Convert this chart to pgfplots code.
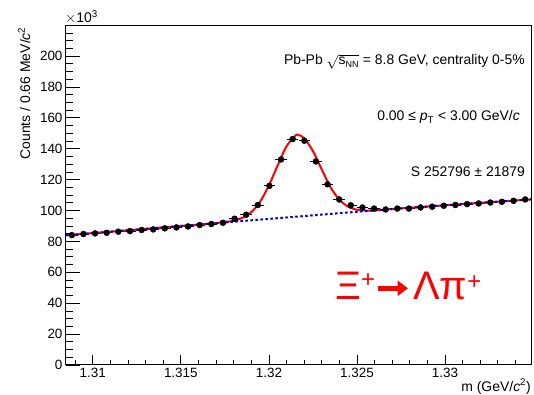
\documentclass[border=0pt]{standalone}
\usepackage{pgfplots}
\pgfplotsset{compat=1.18}
\usepackage{pgfplotstable}
\usepackage{fontspec}
\setmainfont{Liberation Sans}
\usetikzlibrary{arrows.meta}

\pgfplotstableread{
x y
1.30881 84.1
1.30947 84.8
1.31013 85.2
1.31079 85.6
1.31145 86.3
1.31211 86.7
1.31277 87.4
1.31343 87.8
1.31409 88.5
1.31475 89.1
1.31541 89.7
1.31607 90.6
1.31673 91.3
1.31739 92.1
1.31805 94.7
1.31871 97.3
1.31937 103.6
1.32003 116.0
1.32069 133.1
1.32135 146.3
1.32201 145.2
1.32267 131.8
1.32333 117.0
1.32399 107.2
1.32465 103.4
1.32531 102.0
1.32597 101.3
1.32663 100.7
1.32729 101.3
1.32795 101.3
1.32861 102.0
1.32927 102.5
1.32993 103.1
1.33059 103.6
1.33125 104.2
1.33191 104.6
1.33257 105.2
1.33323 105.7
1.33389 106.3
1.33455 107.2
}\datatable

\pgfplotstableread{
x y
1.30848 84.0
1.3100 85.4
1.3120 87.2
1.3140 89.1
1.3160 90.9
1.3170 91.9
1.3180 93.4
1.3185 95.3
1.3190 99.0
1.3195 105.7
1.3200 116.3
1.3205 129.3
1.3210 141.6
1.3215 148.5
1.32166 149.0
1.3220 146.9
1.3225 138.5
1.3230 126.6
1.3235 115.1
1.3240 107.0
1.3245 102.5
1.3250 100.5
1.3255 100.0
1.3260 100.1
1.3270 101.0
1.3300 103.4
1.3325 105.4
1.33488 107.2
}\fittable

\pgfplotstableread{
x y
1.30848 84.0
1.3150 90.0
1.3200 94.6
1.3250 99.2
1.3270 101.0
1.3300 103.4
1.33488 107.2
}\bkgtable

\begin{document}
\begin{tikzpicture}
\pgfplotsset{
  common/.style={
    at={(0,0)}, anchor=south west, scale only axis,
    width=465bp, height=339bp,
    xmin=1.30848, xmax=1.33488, ymin=0, ymax=219.5,
    /pgf/number format/assume math mode=true,
    tick style={black, line width=0.8bp},
    tick label style={font=\fontsize{13.5}{14}\selectfont},
  }
}
\begin{axis}[common,
  xtick=\empty,
  ytick={0,20,...,200},
  minor ytick={5,10,...,215},
  ytick pos=left,
  major tick length=14bp, minor tick length=7bp,
  axis line style={line width=1bp},
]
\addplot[only marks, mark=*, mark size=3bp, black,
  error bars/.cd, x dir=both, x fixed=0.00033,
  error bar style={black, line width=0.8bp}, error mark=none]
  table[x=x,y=y] {\datatable};
\addplot[red, line width=2bp, smooth, tension=0.5] table[x=x,y=y] {\fittable};
\addplot[blue!85!black, line width=2bp, dash pattern=on 2.5bp off 2.5bp, smooth] table[x=x,y=y] {\bkgtable};
\end{axis}
\begin{axis}[common,
  ytick=\empty,
  xtick={1.31,1.315,1.32,1.325,1.33},
  xticklabels={1.31,1.315,1.32,1.325,1.33},
  minor xtick={1.309,1.311,1.312,1.313,1.314,1.316,1.317,1.318,1.319,1.321,1.322,1.323,1.324,1.326,1.327,1.328,1.329,1.331,1.332,1.333,1.334},
  xtick pos=bottom,
  major tick length=10bp, minor tick length=5bp,
  axis line style={draw=none},
]
\end{axis}
% texts (coordinates relative to the lower-left corner of the frame)
\node[anchor=base west, inner sep=0, font=\fontsize{14}{14}\selectfont] at (-1bp,342bp) {$\times$10\textsuperscript{3}};
\node[anchor=base east, rotate=90, inner sep=0, font=\fontsize{14}{14}\selectfont] at (-36bp,338bp) {Counts / 0.66 MeV/\textit{c}\textsuperscript{2}};
\node[anchor=base east, inner sep=0, font=\fontsize{14}{14}\selectfont] at (465bp,-26bp) {m (GeV/\textit{c}\textsuperscript{2})};
\node[anchor=base east, inner sep=0, font=\fontsize{14}{14}\selectfont] at (459bp,300bp) {Pb-Pb $\sqrt{\mbox{s}_{\mbox{\fontsize{9}{9}\selectfont NN}}}$ = 8.8 GeV, centrality 0-5\%};
\node[anchor=base east, inner sep=0, font=\fontsize{14}{14}\selectfont] at (454bp,244bp) {0.00 ≤ \textit{p}\textsubscript{T} < 3.00 GeV/\textit{c}};
\node[anchor=base east, inner sep=0, font=\fontsize{14}{14}\selectfont] at (459bp,188bp) {S 252796 ± 21879};
% decay label
\node[anchor=base west, inner sep=0, text=red, font=\fontsize{40}{40}\selectfont] at (269bp,65bp) {Ξ\raisebox{12.5bp}{\fontsize{24}{24}\selectfont +}};
\draw[red, line width=5bp, -{Triangle[length=10.5bp,width=15bp]}] (312bp,76.7bp) -- (342bp,76.7bp);
\node[anchor=base west, inner sep=0, text=red, font=\fontsize{40}{40}\selectfont] at (347bp,65bp) {Λπ\raisebox{10.5bp}{\fontsize{24}{24}\selectfont +}};
\pgfresetboundingbox
\path[use as bounding box] (-66bp,-30bp) rectangle (468bp,365bp);
\end{tikzpicture}
\end{document}
